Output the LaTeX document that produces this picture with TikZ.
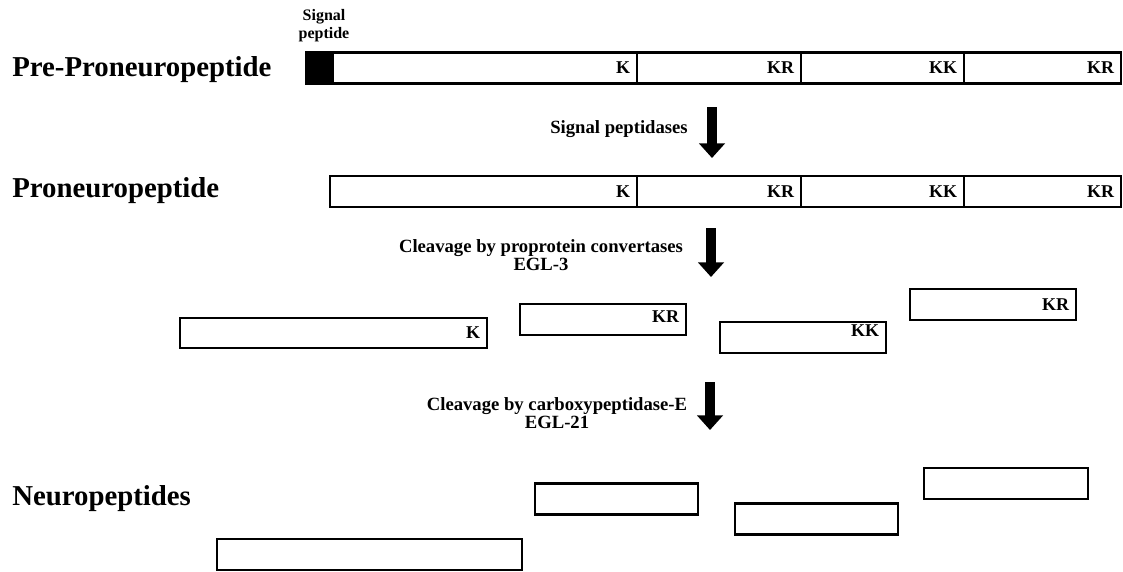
\documentclass[tikz,border=0pt]{standalone}
\usepackage{fontspec}
\setmainfont{Liberation Serif}
\usetikzlibrary{arrows.meta}

\begin{document}
\begin{tikzpicture}[x=0.75pt,y=-0.75pt,
                box/.style={draw, line width=2.2pt, inner sep=0pt, outer sep=0pt, anchor=west, minimum height=23.25pt},
                site/.style={font=\fontsize{13.5}{14}\selectfont\bfseries, anchor=east, inner xsep=5pt, inner ysep=0pt},
                title/.style={font=\fontsize{21.6}{24}\selectfont\bfseries, anchor=base west, inner sep=0pt},
                enzyme/.style={font=\fontsize{14}{13.5}\selectfont\bfseries, align=center, anchor=base, inner sep=0pt},
                bigarrow/.style={line width=8pt, -{Triangle[width=19pt,length=11pt]}}]

            \useasboundingbox (0,0) rectangle (1123,571);

            % pre-proneuropeptide
            \node[title] (pre) at (12,76) {Pre-Proneuropeptide};
            \node[font=\fontsize{12}{13}\selectfont\bfseries, align=center, anchor=base, inner sep=0pt] (sig) at (324,38) {Signal\\peptide};
            \node[box, fill=black, minimum width=20.25pt] (sp) at (306,68) {};
            \node[box, minimum width=228pt] (a1) at (333,68) {};
            \node[box, minimum width=123pt] (a2) at (637,68) {};
            \node[box, minimum width=122.25pt] (a3) at (801,68) {};
            \node[box, minimum width=117.75pt] (a4) at (964,68) {};
            \node[site] (ka1) at (a1.east) {K};
            \node[site] (ka2) at (a2.east) {KR};
            \node[site] (ka3) at (a3.east) {KK};
            \node[site] (ka4) at (a4.east) {KR};

            \node[enzyme] (e1) at (619,133) {Signal peptidases};
            \coordinate (s1) at (712,107);
            \coordinate (t1) at (712,158);
            \draw[bigarrow] (s1) -- (t1);

            % proneuropeptide
            \node[title] (pro) at (12,197) {Proneuropeptide};
            \node[box, minimum width=230.25pt] (b1) at (330,191.5) {};
            \node[box, minimum width=123pt] (b2) at (637,191.5) {};
            \node[box, minimum width=122.25pt] (b3) at (801,191.5) {};
            \node[box, minimum width=117.75pt] (b4) at (964,191.5) {};
            \node[site] (kb1) at (b1.east) {K};
            \node[site] (kb2) at (b2.east) {KR};
            \node[site] (kb3) at (b3.east) {KK};
            \node[site] (kb4) at (b4.east) {KR};

            \node[enzyme] (e2) at (541,270) {Cleavage by proprotein convertases\\EGL-3};
            \coordinate (s2) at (711,228);
            \coordinate (t2) at (711,277);
            \draw[bigarrow] (s2) -- (t2);

            % fragments
            \node[box, minimum width=230.25pt, minimum height=22.5pt] (f1) at (180,333) {};
            \node[box, minimum width=124.5pt] (f2) at (520,319.5) {};
            \node[box, minimum width=124.5pt] (f3) at (720,337.5) {};
            \node[box, minimum width=124.5pt] (f4) at (910,304.5) {};
            \node[site] (kf1) at (f1.east) {K};
            \node[site, yshift=2pt] (kf2) at (f2.east) {KR};
            \node[site, yshift=5pt] (kf3) at (f3.east) {KK};
            \node[site] (kf4) at (f4.east) {KR};

            \node[enzyme] (e3) at (557,428) {Cleavage by carboxypeptidase-E\\EGL-21};
            \coordinate (s3) at (710,382);
            \coordinate (t3) at (710,430);
            \draw[bigarrow] (s3) -- (t3);

            % neuropeptides
            \node[title] (neu) at (12,505) {Neuropeptides};
            \node[box, minimum width=228.75pt] (n1) at (217,554.5) {};
            \node[box, minimum width=122.25pt] (n2) at (535,499) {};
            \node[box, minimum width=122.25pt] (n3) at (735,519) {};
            \node[box, minimum width=123pt] (n4) at (924,483.5) {};

        \end{tikzpicture}
\end{document}
